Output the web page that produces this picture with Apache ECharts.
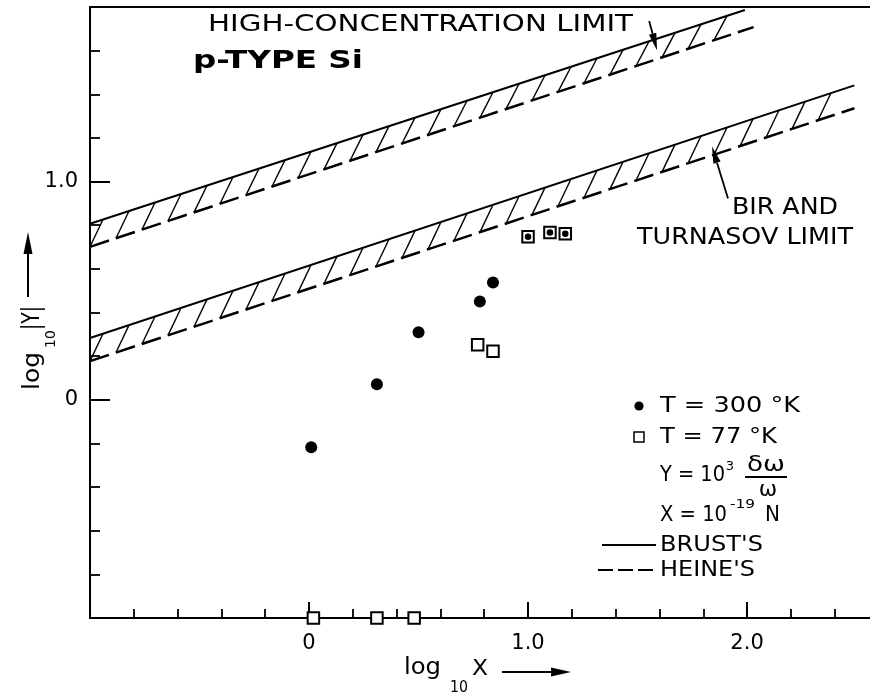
<!DOCTYPE html>
<html>
<head>
<meta charset="utf-8">
<script src="https://cdn.jsdelivr.net/npm/echarts@6/dist/echarts.min.js"></script>
<style>
  html, body { margin: 0; padding: 0; background: #fff; }
  #chart { width: 870px; height: 698px; }
</style>
</head>
<body>
<div id="chart"></div>
<script>
// Measured points: [log10 X, log10 |Y|]
const t300 = [[0.01, -0.218], [0.31, 0.071], [0.50, 0.309], [0.78, 0.450], [0.84, 0.537]];
const t77 = [[0.77, 0.252], [0.84, 0.222], [0.02, -1.0], [0.31, -1.0], [0.48, -1.0]];
const bothTemps = [[1.00, 0.747], [1.10, 0.767], [1.17, 0.761]];

// Limit bands: Brust's estimate (solid) and Heine's estimate (dashed)
const brustHigh = [[-1.0, 0.807], [1.99, 1.786]];
const heineHigh = [[-1.0, 0.701], [2.03, 1.708]];
const brustBT = [[-1.0, 0.283], [2.49, 1.441]];
const heineBT = [[-1.0, 0.177], [2.49, 1.336]];

// Pointer arrows for the band captions: [fromX, fromY, toX, toY]
const pointers = [[1.553, 1.736, 1.589, 1.602], [1.913, 0.922, 1.840, 1.161]];

const xTickLabels = { '0': '0', '1': '1.0', '2': '2.0' };
const yTickLabels = { '0': '0', '1': '1.0' };

const FONT = 'DejaVu Sans';
const INK = '#000';
const X_MIN = -1, X_MAX = 2.607;

const chart = echarts.init(document.getElementById('chart'), null, { renderer: 'canvas' });

// hatch strokes between the dashed (lower) and solid (upper) edge of a band
function hatchRenderer(solid, dashed) {
  return function (params, api) {
    const s0 = api.coord(solid[0]), s1 = api.coord(solid[1]);
    const d0 = api.coord(dashed[0]), d1 = api.coord(dashed[1]);
    const ys = x => s0[1] + (s1[1] - s0[1]) * (x - s0[0]) / (s1[0] - s0[0]);
    const yd = x => d0[1] + (d1[1] - d0[1]) * (x - d0[0]) / (d1[0] - d0[0]);
    const gap = 26, lean = 13;
    const children = [];
    for (let xb = d0[0]; xb + lean <= s1[0] + 0.5 && xb <= d1[0]; xb += gap) {
      children.push({
        type: 'line',
        shape: { x1: xb, y1: yd(xb), x2: xb + lean, y2: ys(xb + lean) },
        style: { stroke: INK, lineWidth: 1.4 }
      });
    }
    return { type: 'group', children };
  };
}

function pointerRenderer(params, api) {
  const p0 = api.coord([api.value(0), api.value(1)]);
  const p1 = api.coord([api.value(2), api.value(3)]);
  const dx = p1[0] - p0[0], dy = p1[1] - p0[1];
  const len = Math.hypot(dx, dy);
  const ux = dx / len, uy = dy / len;
  const headL = 17, headW = 3.8;
  const bx = p1[0] - ux * headL, by = p1[1] - uy * headL;
  return {
    type: 'group',
    children: [
      { type: 'line', shape: { x1: p0[0], y1: p0[1], x2: bx, y2: by }, style: { stroke: INK, lineWidth: 1.8 } },
      {
        type: 'polygon',
        shape: { points: [[p1[0], p1[1]], [bx - uy * headW, by + ux * headW], [bx + uy * headW, by - ux * headW]] },
        style: { fill: INK }
      }
    ]
  };
}

// text helper: stretches the run horizontally to the wide lettering spacing
const measureCtx = document.createElement('canvas').getContext('2d');
function txt(text, x, y, size, opts) {
  opts = opts || {};
  const weight = opts.weight || 'normal';
  measureCtx.font = weight + ' ' + size + 'px "' + FONT + '"';
  const w = measureCtx.measureText(text).width;
  const align = opts.align || 'left';
  return {
    type: 'text',
    x: x,
    y: y,
    rotation: opts.rotation || 0,
    scaleX: opts.width ? opts.width / w : 1,
    z: 10,
    style: {
      text: text,
      x: 0, y: 0,
      fill: INK,
      fontSize: size,
      fontFamily: FONT,
      fontWeight: weight,
      align: align, textAlign: align,
      verticalAlign: 'middle', textVerticalAlign: 'middle'
    }
  };
}

const graphics = [
  // captions
  txt('HIGH-CONCENTRATION LIMIT', 208, 25, 23, { width: 425 }),
  txt('p-TYPE Si', 193, 61, 25, { width: 170, weight: 'bold' }),
  txt('BIR AND', 732, 208, 23, { width: 106 }),
  txt('TURNASOV LIMIT', 637, 238, 23, { width: 216 }),

  // key
  { type: 'circle', shape: { cx: 639, cy: 406, r: 4.6 }, style: { fill: INK }, z: 10 },
  txt('T = 300 °K', 660, 406, 22, { width: 140 }),
  { type: 'rect', shape: { x: 634, y: 432, width: 10, height: 10 }, style: { fill: '#fff', stroke: INK, lineWidth: 1.5 }, z: 10 },
  txt('T = 77 °K', 660, 437, 22, { width: 117 }),
  txt('Y = 10', 660, 475, 22, { width: 65 }),
  txt('3', 730, 467, 13, { align: 'center' }),
  txt('δω', 766, 465, 22, { align: 'center', width: 38 }),
  { type: 'line', shape: { x1: 745, y1: 477, x2: 787, y2: 477 }, style: { stroke: INK, lineWidth: 2 }, z: 10 },
  txt('ω', 768, 490, 22, { align: 'center' }),
  txt('X = 10', 660, 515, 22, { width: 67 }),
  txt('-19', 730, 505, 13, { width: 25 }),
  txt('N', 765, 515, 22, { width: 15 }),
  { type: 'line', shape: { x1: 602, y1: 545, x2: 656, y2: 545 }, style: { stroke: INK, lineWidth: 2 }, z: 10 },
  txt("BRUST'S", 660, 545, 22, { width: 103 }),
  { type: 'line', shape: { x1: 598, y1: 570, x2: 657, y2: 570 }, style: { stroke: INK, lineWidth: 2, lineDash: [15, 5] }, z: 10 },
  txt("HEINE'S", 660, 570, 22, { width: 95 }),

  // x axis title with arrow
  txt('log', 404, 668, 23, { width: 37 }),
  txt('10', 450, 688, 15, { width: 18 }),
  txt('X', 472, 669, 22, { width: 16 }),
  { type: 'line', shape: { x1: 502, y1: 672, x2: 554, y2: 672 }, style: { stroke: INK, lineWidth: 2 }, z: 10 },
  { type: 'polygon', shape: { points: [[571, 672], [551, 667.5], [551, 676.5]] }, style: { fill: INK }, z: 10 },

  // y axis title with arrow (reads bottom to top)
  txt('log', 33, 371, 23, { align: 'center', rotation: Math.PI / 2, width: 38 }),
  txt('10', 51, 339, 14, { align: 'center', rotation: Math.PI / 2 }),
  txt('|Y|', 32, 318, 25, { align: 'center', rotation: Math.PI / 2, width: 24 }),
  { type: 'line', shape: { x1: 28, y1: 297, x2: 28, y2: 250 }, style: { stroke: INK, lineWidth: 2 }, z: 10 },
  { type: 'polygon', shape: { points: [[28, 232], [23.5, 254], [32.5, 254]] }, style: { fill: INK }, z: 10 }
];

const axisLineStyle = { color: INK, width: 2 };

const option = {
  animation: false,
  backgroundColor: '#fff',
  // the plot runs past the right edge of the page
  grid: { left: 90, width: 790, top: 7, bottom: 80, outerBoundsMode: 'none', containLabel: false },
  xAxis: [
    {
      type: 'value', min: X_MIN, max: X_MAX, interval: 1,
      splitLine: { show: false }, minorSplitLine: { show: false },
      axisLine: { onZero: false, lineStyle: axisLineStyle },
      axisTick: { inside: true, length: 16, lineStyle: { color: INK, width: 2 } },
      minorTick: { show: true, splitNumber: 5, length: 9, lineStyle: { color: INK, width: 1.8 } },
      axisLabel: {
        margin: 15, fontSize: 21, fontFamily: FONT, color: INK,
        showMinLabel: false, showMaxLabel: false,
        formatter: v => xTickLabels[String(Math.round(v * 1000) / 1000)] || ''
      }
    },
    {
      // frame line along the top of the plot
      type: 'value', position: 'top', min: X_MIN, max: X_MAX,
      splitLine: { show: false },
      axisLine: { onZero: false, lineStyle: axisLineStyle },
      axisTick: { show: false }, axisLabel: { show: false }
    }
  ],
  yAxis: {
    type: 'value', min: -1, max: 1.8, interval: 1,
    splitLine: { show: false }, minorSplitLine: { show: false },
    axisLine: { onZero: false, lineStyle: axisLineStyle },
    axisTick: { inside: true, length: 20, lineStyle: { color: INK, width: 2 } },
    minorTick: { show: true, splitNumber: 5, length: 10, lineStyle: { color: INK, width: 1.8 } },
    axisLabel: {
      margin: 12, fontSize: 21, fontFamily: FONT, color: INK,
      showMinLabel: false, showMaxLabel: false,
      formatter: v => yTickLabels[String(Math.round(v * 1000) / 1000)] || ''
    }
  },
  series: [
    { name: 'Brust high', type: 'line', data: brustHigh, symbol: 'none', lineStyle: { color: INK, width: 2 }, z: 3 },
    { name: 'Heine high', type: 'line', data: heineHigh, symbol: 'none', lineStyle: { color: INK, width: 2.5, type: [20, 7.3] }, z: 3 },
    { name: 'Brust BT', type: 'line', data: brustBT, symbol: 'none', lineStyle: { color: INK, width: 2 }, z: 3 },
    { name: 'Heine BT', type: 'line', data: heineBT, symbol: 'none', lineStyle: { color: INK, width: 2.5, type: [20, 7.3] }, z: 3 },
    { name: 'hatch high', type: 'custom', data: [[0, 0]], renderItem: hatchRenderer(brustHigh, heineHigh), z: 3, silent: true },
    { name: 'hatch BT', type: 'custom', data: [[0, 0]], renderItem: hatchRenderer(brustBT, heineBT), z: 3, silent: true },
    { name: 'pointers', type: 'custom', data: pointers, encode: { x: [0, 2], y: [1, 3] }, renderItem: pointerRenderer, z: 4, silent: true },
    {
      name: 'T = 300 °K', type: 'scatter', data: t300, symbol: 'circle', symbolSize: 12,
      itemStyle: { color: INK, opacity: 1 }, z: 5
    },
    {
      name: 'T = 77 °K', type: 'scatter', data: t77, symbol: 'rect', symbolSize: 11.5, clip: false,
      itemStyle: { color: '#fff', borderColor: INK, borderWidth: 2, opacity: 1 }, z: 5
    },
    {
      name: 'both (square)', type: 'scatter', data: bothTemps, symbol: 'rect', symbolSize: 11.5,
      itemStyle: { color: '#fff', borderColor: INK, borderWidth: 2, opacity: 1 }, z: 5
    },
    {
      name: 'both (dot)', type: 'scatter', data: bothTemps, symbol: 'circle', symbolSize: 6.5,
      itemStyle: { color: INK, opacity: 1 }, z: 6
    }
  ],
  graphic: graphics
};

chart.setOption(option);
</script>
</body>
</html>
